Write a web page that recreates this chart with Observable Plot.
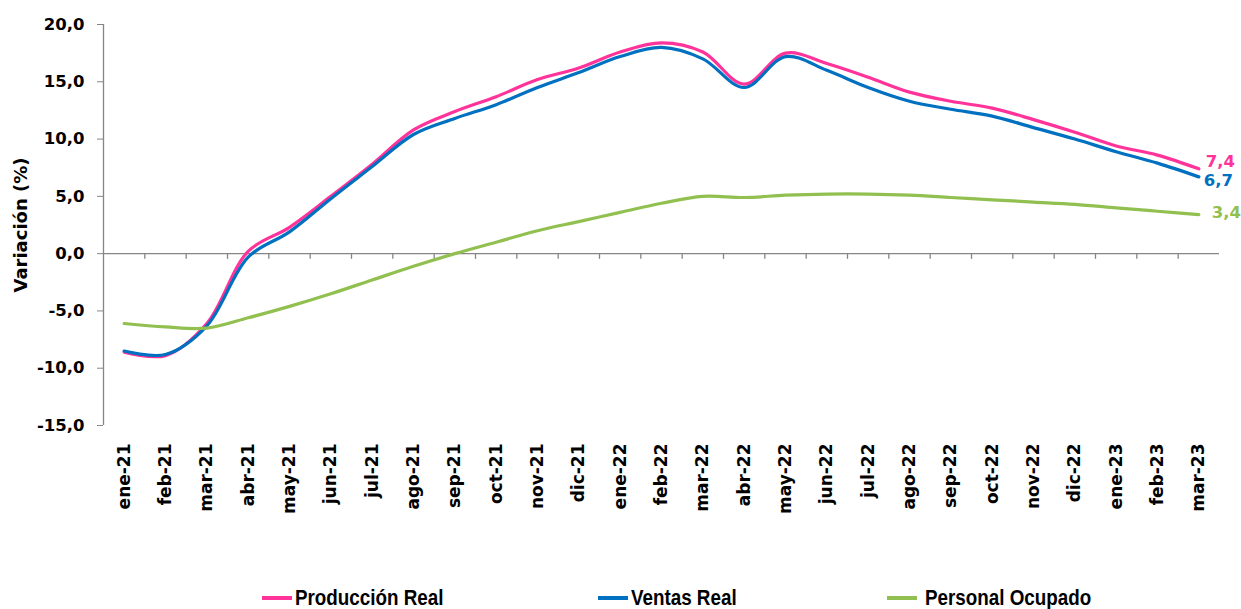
<!DOCTYPE html>
<html>
<head>
<meta charset="utf-8">
<script src="https://cdn.jsdelivr.net/npm/d3@7"></script>
<script src="https://cdn.jsdelivr.net/npm/@observablehq/plot@0.6"></script>
<style>
  html, body { margin: 0; padding: 0; background: #fff; }
  #chart { width: 1241px; height: 574px; }
  .legend { position: relative; height: 35px; width: 1241px; font-family: "Liberation Sans", Arial, sans-serif; font-weight: bold; font-size: 22px; color: #000; }
  .legend .item { position: absolute; top: 11px; display: flex; align-items: center; white-space: nowrap; line-height: 26px; }
  .legend .sw { display: inline-block; width: 30px; height: 4px; margin-right: 3px; }
  .legend .tx { display: inline-block; transform: scaleX(0.855); transform-origin: left center; }
</style>
</head>
<body>
<div id="chart"></div>
<script>
const categories = ["ene-21","feb-21","mar-21","abr-21","may-21","jun-21","jul-21","ago-21","sep-21","oct-21","nov-21","dic-21","ene-22","feb-22","mar-22","abr-22","may-22","jun-22","jul-22","ago-22","sep-22","oct-22","nov-22","dic-22","ene-23","feb-23","mar-23"];
const produccionReal = [-8.6,-8.9,-6.1,0.2,2.3,5.0,7.8,10.8,12.4,13.7,15.2,16.2,17.6,18.4,17.6,14.8,17.5,16.6,15.4,14.1,13.3,12.7,11.7,10.6,9.4,8.6,7.4];
const ventasReal = [-8.5,-8.8,-6.3,-0.3,1.9,4.8,7.6,10.4,11.8,13.0,14.5,15.8,17.2,18.0,17.0,14.5,17.2,16.0,14.5,13.3,12.6,12.0,11.0,10.0,8.9,7.9,6.7];
const personalOcupado = [-6.1,-6.4,-6.5,-5.6,-4.6,-3.5,-2.3,-1.1,0.0,1.0,2.0,2.8,3.6,4.4,5.0,4.9,5.1,5.2,5.2,5.1,4.9,4.7,4.5,4.3,4.0,3.7,3.4];
const seriesNames = ["Producción Real","Ventas Real","Personal Ocupado"];
const seriesColors = ["#ff3399","#0070c0","#92c050"];
const yTicks = [-15,-10,-5,0,5,10,15,20];
const yLabel = "Variación (%)";

const seriesValues = [produccionReal, ventasReal, personalOcupado];
const rows = [];
seriesValues.forEach((vals, s) => vals.forEach((v, i) => rows.push({serie: seriesNames[s], i, v})));
const lastRows = seriesValues.map((vals, s) => ({serie: seriesNames[s], i: vals.length - 1, v: vals[vals.length - 1]}));
const labelOffsets = [{dx: 7, dy: -7}, {dx: 5, dy: 4}, {dx: 13, dy: -2}];
const fmt = d => d.toFixed(1).replace(".", ",");
const idx = categories.map((c, i) => i);
const boundaries = categories.slice(0, -1).map((c, i) => i + 0.5);

const plot = Plot.plot({
  width: 1241,
  height: 574,
  marginLeft: 103,
  marginRight: 22,
  marginTop: 24,
  marginBottom: 149,
  style: {fontFamily: "'DejaVu Sans', sans-serif", fontWeight: "bold", color: "#000", background: "#fff"},
  x: {type: "linear", domain: [-0.5, categories.length - 0.5]},
  y: {domain: [-15, 20]},
  color: {domain: seriesNames, range: seriesColors},
  marks: [
    Plot.ruleX([-0.5], {y1: -15, y2: 20, stroke: "#868686", strokeWidth: 1.3}),
    Plot.axisY({ticks: yTicks, tickFormat: fmt, tickSize: 6, tickPadding: 13, fontSize: 16.5, fontWeight: "bold", stroke: "#868686", label: null}),
    Plot.axisY({ticks: [], tickSize: 0, label: yLabel, labelAnchor: "center", labelArrow: "none", labelOffset: 89, fontSize: 18, fontWeight: "bold"}),
    Plot.ruleY([0], {stroke: "#868686", strokeWidth: 1.3}),
    Plot.ruleX(boundaries, {y1: 0, y2: -0.5, stroke: "#868686", strokeWidth: 1.3}),
    Plot.axisX({ticks: idx, tickFormat: i => categories[i], tickRotate: -90, tickSize: 0, tickPadding: 18, fontSize: 17, fontWeight: "bold", label: null}),
    Plot.line(rows, {x: "i", y: "v", z: "serie", stroke: "serie", strokeWidth: 3.2, curve: "catmull-rom"}),
    ...lastRows.map((r, k) => Plot.text([r], {x: "i", y: "v", text: d => fmt(d.v), fill: "serie", textAnchor: "start", dx: labelOffsets[k].dx, dy: labelOffsets[k].dy, fontSize: 16.5, fontWeight: "bold", fontFamily: "'DejaVu Sans', sans-serif"}))
  ]
});
document.getElementById("chart").appendChild(plot);

const legend = document.createElement("div");
legend.className = "legend";
const lefts = [262, 598, 887];
const gaps = [3, 3, 8];
seriesNames.forEach((n, k) => {
  const item = document.createElement("div");
  item.className = "item";
  item.style.left = lefts[k] + "px";
  item.innerHTML = `<span class="sw" style="background:${seriesColors[k]};margin-right:${gaps[k]}px"></span><span class="tx">${n}</span>`;
  legend.appendChild(item);
});
document.body.appendChild(legend);
</script>
</body>
</html>
